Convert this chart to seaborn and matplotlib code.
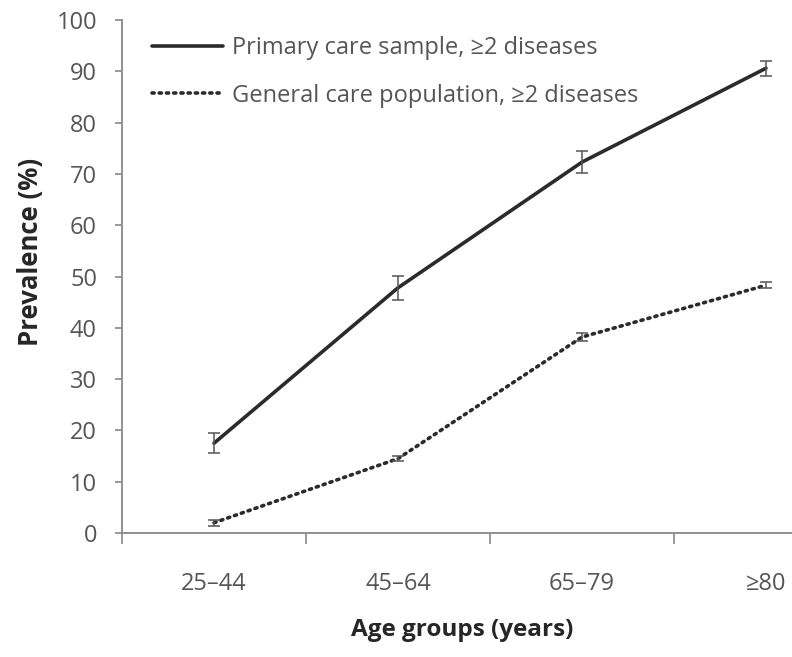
import pandas as pd
import numpy as np
import matplotlib.pyplot as plt
import seaborn as sns
from matplotlib.lines import Line2D

# Values
age_groups = ["25\u201344", "45\u201364", "65\u201379", "\u226580"]
primary = [17.5, 47.8, 72.3, 90.6]
primary_err = [2.0, 2.3, 2.2, 1.5]
general = [2.0, 14.5, 38.2, 48.3]
general_err = [0.6, 0.5, 0.7, 0.6]
series_names = ["Primary care sample, \u22652 diseases",
                "General care population, \u22652 diseases"]

sns.set_style("white")
plt.rcParams['font.family'] = ['Open Sans', 'DejaVu Sans']

df = pd.DataFrame({
    'x': list(range(4)) * 2,
    'value': primary + general,
    'series': [series_names[0]] * 4 + [series_names[1]] * 4,
})

fig = plt.figure(figsize=(7.92, 6.57), dpi=100)
# axes run past the right edge like the cropped original
ax = fig.add_axes([122 / 792, (657 - 533) / 657, 736 / 792, 513 / 657])

sns.lineplot(data=df, x='x', y='value', hue='series', style='series',
             palette=['#2b2b2b', '#2b2b2b'],
             dashes={series_names[0]: '', series_names[1]: (0.6, 1.4)},
             linewidth=2.6, ax=ax, legend=False)
ax.lines[1].set_dash_capstyle('round')

ax.errorbar(range(4), primary, yerr=primary_err, fmt='none',
            ecolor='#555555', elinewidth=1.1, capsize=4.5, capthick=1.1)
ax.errorbar(range(4), general, yerr=general_err, fmt='none',
            ecolor='#555555', elinewidth=1.1, capsize=4.5, capthick=1.1)

ax.set_xlim(-0.5, 3.5)
ax.set_ylim(0, 100)
ax.set_yticks(np.arange(0, 101, 10))
ax.set_xticks([-0.5, 0.5, 1.5, 2.5])
ax.set_xticklabels([])
ax.set_xticks(range(4), minor=True)
ax.set_xticklabels(age_groups, minor=True)
ax.tick_params(axis='x', which='minor', bottom=False, length=0, pad=28,
               labelsize=17, labelcolor='#555555')
ax.tick_params(axis='x', which='major', bottom=True, length=8, width=1.2,
               color='#888888', direction='out')
ax.tick_params(axis='y', left=True, length=5, width=1.2, color='#888888', direction='out',
               labelsize=17, labelcolor='#555555', pad=13)

for s in ['top', 'right']:
    ax.spines[s].set_visible(False)
for s in ['left', 'bottom']:
    ax.spines[s].set_color('#888888')
    ax.spines[s].set_linewidth(1.3)

ax.set_xlabel("Age groups (years)", fontsize=17.5, fontweight='bold', color='#262626')
ax.set_ylabel("Prevalence (%)", fontsize=18.5, fontweight='bold', color='#262626')
ax.xaxis.set_label_coords((462 - 122) / 736, -(618 - 533) / 513)
ax.yaxis.set_label_coords(-(122 - 44) / 736, (533 - 252) / 513)

handles = [Line2D([], [], color='#2b2b2b', linewidth=2.6),
           Line2D([], [], color='#2b2b2b', linewidth=2.6, dashes=(0.6, 1.4), dash_capstyle='round')]
ax.legend(handles, series_names, loc='upper left', bbox_to_anchor=(0.012, 1.01),
          frameon=False, fontsize=17, labelcolor='#555555', handlelength=3.0,
          handletextpad=0.4, labelspacing=1.0)

fig.savefig("out.png", dpi=100)
